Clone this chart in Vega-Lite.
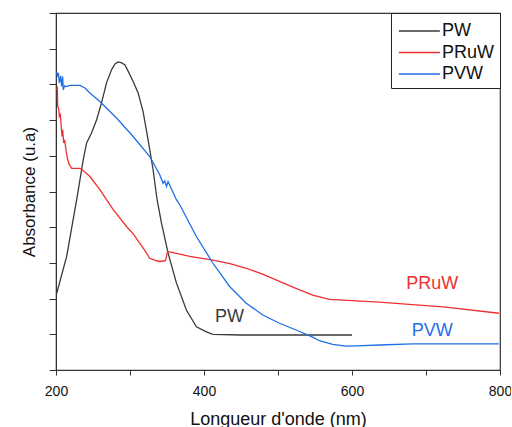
{
  "$schema": "https://vega.github.io/schema/vega-lite/v6.json",
  "autosize": "none",
  "width": 444,
  "height": 357,
  "padding": {"left": 56, "top": 13, "right": 11, "bottom": 57},
  "background": "white",
  "config": {
    "font": "Liberation Sans",
    "view": {"stroke": "#333333", "strokeWidth": 1.2},
    "axis": {"grid": false, "domainColor": "#333333", "tickColor": "#333333", "labelColor": "#111111", "titleColor": "#111111", "titleFontWeight": "normal"}
  },
  "datasets": {
    "spectra": [
      {"nm": 201.0, "abs": 2.15, "series": "PW"},
      {"nm": 214.4, "abs": 3.18, "series": "PW"},
      {"nm": 229.0, "abs": 4.90, "series": "PW"},
      {"nm": 236.8, "abs": 5.89, "series": "PW"},
      {"nm": 241.4, "abs": 6.36, "series": "PW"},
      {"nm": 248.0, "abs": 6.64, "series": "PW"},
      {"nm": 254.9, "abs": 7.01, "series": "PW"},
      {"nm": 261.6, "abs": 7.49, "series": "PW"},
      {"nm": 268.4, "abs": 8.05, "series": "PW"},
      {"nm": 275.1, "abs": 8.41, "series": "PW"},
      {"nm": 280.0, "abs": 8.58, "series": "PW"},
      {"nm": 284.0, "abs": 8.63, "series": "PW"},
      {"nm": 288.0, "abs": 8.61, "series": "PW"},
      {"nm": 293.0, "abs": 8.55, "series": "PW"},
      {"nm": 298.0, "abs": 8.35, "series": "PW"},
      {"nm": 304.2, "abs": 8.08, "series": "PW"},
      {"nm": 311.0, "abs": 7.76, "series": "PW"},
      {"nm": 317.7, "abs": 7.24, "series": "PW"},
      {"nm": 324.4, "abs": 6.45, "series": "PW"},
      {"nm": 331.2, "abs": 5.61, "series": "PW"},
      {"nm": 336.6, "abs": 4.77, "series": "PW"},
      {"nm": 342.5, "abs": 4.12, "series": "PW"},
      {"nm": 351.4, "abs": 3.28, "series": "PW"},
      {"nm": 362.7, "abs": 2.44, "series": "PW"},
      {"nm": 376.2, "abs": 1.68, "series": "PW"},
      {"nm": 389.7, "abs": 1.21, "series": "PW"},
      {"nm": 403.2, "abs": 1.07, "series": "PW"},
      {"nm": 412.0, "abs": 1.00, "series": "PW"},
      {"nm": 450.0, "abs": 0.98, "series": "PW"},
      {"nm": 600.0, "abs": 0.98, "series": "PW"},

      {"nm": 201.0, "abs": 7.85, "series": "PRuW"},
      {"nm": 201.8, "abs": 7.94, "series": "PRuW"},
      {"nm": 202.3, "abs": 7.38, "series": "PRuW"},
      {"nm": 203.6, "abs": 7.33, "series": "PRuW"},
      {"nm": 204.5, "abs": 7.10, "series": "PRuW"},
      {"nm": 205.8, "abs": 7.15, "series": "PRuW"},
      {"nm": 207.1, "abs": 6.82, "series": "PRuW"},
      {"nm": 208.1, "abs": 6.54, "series": "PRuW"},
      {"nm": 209.0, "abs": 6.73, "series": "PRuW"},
      {"nm": 210.4, "abs": 6.36, "series": "PRuW"},
      {"nm": 211.7, "abs": 6.45, "series": "PRuW"},
      {"nm": 213.5, "abs": 6.17, "series": "PRuW"},
      {"nm": 215.3, "abs": 5.93, "series": "PRuW"},
      {"nm": 218.0, "abs": 5.75, "series": "PRuW"},
      {"nm": 221.2, "abs": 5.65, "series": "PRuW"},
      {"nm": 232.4, "abs": 5.65, "series": "PRuW"},
      {"nm": 236.8, "abs": 5.59, "series": "PRuW"},
      {"nm": 245.8, "abs": 5.42, "series": "PRuW"},
      {"nm": 259.3, "abs": 5.05, "series": "PRuW"},
      {"nm": 277.3, "abs": 4.49, "series": "PRuW"},
      {"nm": 295.3, "abs": 4.02, "series": "PRuW"},
      {"nm": 305.0, "abs": 3.80, "series": "PRuW"},
      {"nm": 313.3, "abs": 3.55, "series": "PRuW"},
      {"nm": 320.0, "abs": 3.35, "series": "PRuW"},
      {"nm": 326.7, "abs": 3.13, "series": "PRuW"},
      {"nm": 335.8, "abs": 3.06, "series": "PRuW"},
      {"nm": 340.2, "abs": 3.04, "series": "PRuW"},
      {"nm": 346.9, "abs": 3.06, "series": "PRuW"},
      {"nm": 348.3, "abs": 3.08, "series": "PRuW"},
      {"nm": 350.6, "abs": 3.32, "series": "PRuW"},
      {"nm": 358.2, "abs": 3.29, "series": "PRuW"},
      {"nm": 380.7, "abs": 3.18, "series": "PRuW"},
      {"nm": 412.1, "abs": 3.08, "series": "PRuW"},
      {"nm": 435.0, "abs": 2.98, "series": "PRuW"},
      {"nm": 457.1, "abs": 2.85, "series": "PRuW"},
      {"nm": 480.0, "abs": 2.68, "series": "PRuW"},
      {"nm": 502.0, "abs": 2.48, "series": "PRuW"},
      {"nm": 525.0, "abs": 2.28, "series": "PRuW"},
      {"nm": 546.9, "abs": 2.10, "series": "PRuW"},
      {"nm": 569.4, "abs": 1.98, "series": "PRuW"},
      {"nm": 636.8, "abs": 1.90, "series": "PRuW"},
      {"nm": 726.8, "abs": 1.76, "series": "PRuW"},
      {"nm": 798.6, "abs": 1.59, "series": "PRuW"},

      {"nm": 201.0, "abs": 8.36, "series": "PVW"},
      {"nm": 201.8, "abs": 8.22, "series": "PVW"},
      {"nm": 203.1, "abs": 8.32, "series": "PVW"},
      {"nm": 204.5, "abs": 8.04, "series": "PVW"},
      {"nm": 206.3, "abs": 8.24, "series": "PVW"},
      {"nm": 207.7, "abs": 7.94, "series": "PVW"},
      {"nm": 209.0, "abs": 8.22, "series": "PVW"},
      {"nm": 209.8, "abs": 7.85, "series": "PVW"},
      {"nm": 211.7, "abs": 7.96, "series": "PVW"},
      {"nm": 214.4, "abs": 7.94, "series": "PVW"},
      {"nm": 218.9, "abs": 7.97, "series": "PVW"},
      {"nm": 232.4, "abs": 7.97, "series": "PVW"},
      {"nm": 239.1, "abs": 7.90, "series": "PVW"},
      {"nm": 245.8, "abs": 7.76, "series": "PVW"},
      {"nm": 259.3, "abs": 7.52, "series": "PVW"},
      {"nm": 281.8, "abs": 7.06, "series": "PVW"},
      {"nm": 304.2, "abs": 6.54, "series": "PVW"},
      {"nm": 326.7, "abs": 5.98, "series": "PVW"},
      {"nm": 340.2, "abs": 5.47, "series": "PVW"},
      {"nm": 344.7, "abs": 5.23, "series": "PVW"},
      {"nm": 347.0, "abs": 5.30, "series": "PVW"},
      {"nm": 349.3, "abs": 5.14, "series": "PVW"},
      {"nm": 351.4, "abs": 5.28, "series": "PVW"},
      {"nm": 362.7, "abs": 4.77, "series": "PVW"},
      {"nm": 367.2, "abs": 4.63, "series": "PVW"},
      {"nm": 389.7, "abs": 3.74, "series": "PVW"},
      {"nm": 412.1, "abs": 2.99, "series": "PVW"},
      {"nm": 434.6, "abs": 2.34, "series": "PVW"},
      {"nm": 457.1, "abs": 1.87, "series": "PVW"},
      {"nm": 479.5, "abs": 1.54, "series": "PVW"},
      {"nm": 502.0, "abs": 1.31, "series": "PVW"},
      {"nm": 524.5, "abs": 1.12, "series": "PVW"},
      {"nm": 546.9, "abs": 0.92, "series": "PVW"},
      {"nm": 555.9, "abs": 0.82, "series": "PVW"},
      {"nm": 573.9, "abs": 0.72, "series": "PVW"},
      {"nm": 592.0, "abs": 0.67, "series": "PVW"},
      {"nm": 614.3, "abs": 0.68, "series": "PVW"},
      {"nm": 636.8, "abs": 0.70, "series": "PVW"},
      {"nm": 681.7, "abs": 0.73, "series": "PVW"},
      {"nm": 726.8, "abs": 0.73, "series": "PVW"},
      {"nm": 798.6, "abs": 0.73, "series": "PVW"}
    ],
    "labels": [
      {"nm": 708.5, "abs": 2.41, "text": "PRuW", "series": "PRuW"},
      {"nm": 708.5, "abs": 1.09, "text": "PVW", "series": "PVW"},
      {"nm": 434.6, "abs": 1.49, "text": "PW", "series": "PW"}
    ]
  },
  "layer": [
    {
      "data": {"name": "spectra"},
      "mark": {"type": "line", "strokeWidth": 1.3, "clip": true},
      "encoding": {
        "x": {
          "field": "nm", "type": "quantitative",
          "scale": {"domain": [200, 800], "nice": false, "zero": false},
          "axis": {
            "title": "Longueur d'onde (nm)",
            "values": [200, 300, 400, 500, 600, 700, 800],
            "labelExpr": "datum.value % 200 == 0 ? datum.label : ''",
            "labelFontSize": 14, "labelPadding": 9, "tickSize": 5,
            "titleFontSize": 18, "titlePadding": 12, "labelFlush": false
          }
        },
        "y": {
          "field": "abs", "type": "quantitative",
          "scale": {"domain": [0, 10], "nice": false},
          "axis": {
            "title": "Absorbance (u.a)",
            "values": [0, 1, 2, 3, 4, 5, 6, 7, 8, 9, 10],
            "tickCount": 11,
            "labelOverlap": false,
            "labels": false, "tickSize": 7,
            "titleFontSize": 17, "titlePadding": 10
          }
        },
        "color": {
          "field": "series", "type": "nominal",
          "scale": {"domain": ["PW", "PRuW", "PVW"], "range": ["#3a3a3a", "#f03030", "#1f6fe6"]},
          "legend": {
            "title": " ",
            "titleFontSize": 4,
            "titlePadding": 0,
            "orient": "top-right",
            "offset": 0,
            "padding": 5,
            "strokeColor": "#222222",
            "fillColor": "white",
            "symbolType": "M-1.2,0H6.84",
            "symbolSize": 104,
            "symbolStrokeWidth": 1.5,
            "labelFontSize": 18,
            "labelOffset": 28,
            "rowPadding": 3.5,
            "labelColor": "#111111"
          }
        },
        "detail": {"field": "series"}
      }
    },
    {
      "data": {"name": "labels"},
      "mark": {"type": "text", "fontSize": 18, "align": "center", "baseline": "middle"},
      "encoding": {
        "x": {"field": "nm", "type": "quantitative"},
        "y": {"field": "abs", "type": "quantitative"},
        "text": {"field": "text"},
        "color": {
          "field": "series", "type": "nominal",
          "scale": {"domain": ["PW", "PRuW", "PVW"], "range": ["#3a3a3a", "#f03030", "#1f6fe6"]},
          "legend": null
        }
      }
    }
  ]
}
